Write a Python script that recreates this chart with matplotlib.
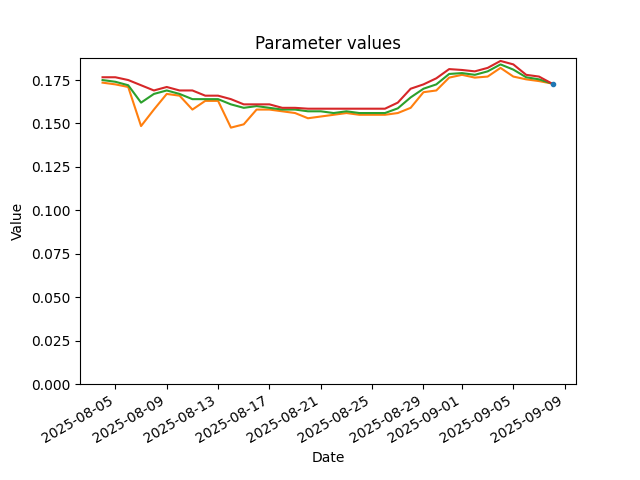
import numpy as np
import pandas as pd
import matplotlib
matplotlib.use("Agg")
import matplotlib.pyplot as plt

# daily dates
dates = pd.date_range("2025-08-04", "2025-09-08", freq="D")

# lower band (orange)
p_min = [0.1735, 0.1725, 0.171, 0.1485, 0.158, 0.167, 0.166, 0.158, 0.163,
         0.163, 0.1476, 0.1495, 0.158, 0.158, 0.157, 0.156, 0.153, 0.154,
         0.155, 0.156, 0.155, 0.155, 0.155, 0.156, 0.159, 0.168, 0.169,
         0.1764, 0.178, 0.1764, 0.177, 0.182, 0.177, 0.1754, 0.1744, 0.173]
# middle (green)
p_mid = [0.175, 0.174, 0.172, 0.162, 0.167, 0.169, 0.167, 0.164, 0.164,
         0.164, 0.161, 0.159, 0.160, 0.159, 0.158, 0.158, 0.157, 0.157,
         0.156, 0.157, 0.156, 0.156, 0.156, 0.1587, 0.165, 0.170, 0.1725,
         0.1785, 0.179, 0.178, 0.180, 0.184, 0.181, 0.1766, 0.1754, 0.173]
# upper band (red)
p_max = [0.1766, 0.1766, 0.175, 0.172, 0.169, 0.171, 0.169, 0.169, 0.166,
         0.166, 0.164, 0.161, 0.161, 0.161, 0.159, 0.159, 0.1585, 0.1585,
         0.1585, 0.1585, 0.1585, 0.1585, 0.1585, 0.162, 0.170, 0.1725, 0.176,
         0.1813, 0.1808, 0.180, 0.182, 0.186, 0.184, 0.178, 0.177, 0.173]

# latest value (blue dot)
latest_time = [pd.Timestamp("2025-09-08 03:00")]
latest_value = [0.173]

fig, ax = plt.subplots()
ax.plot(latest_time, latest_value, ".", color="C0", zorder=3)
ax.plot(dates, p_min, color="C1")
ax.plot(dates, p_mid, color="C2")
ax.plot(dates, p_max, color="C3")
ax.set_ylim(0)
ax.set_title("Parameter values")
ax.set_xlabel("Date")
ax.set_ylabel("Value")
fig.autofmt_xdate()
fig.savefig("out.png")
